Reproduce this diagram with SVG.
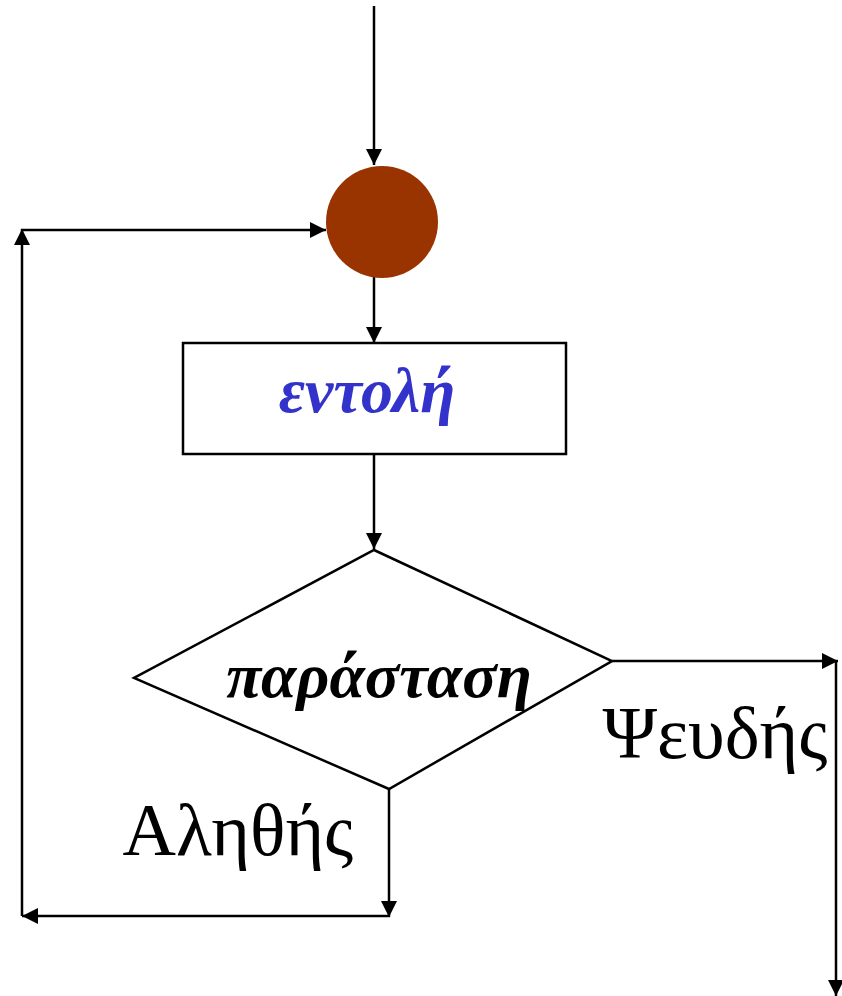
<svg xmlns="http://www.w3.org/2000/svg" width="842" height="996" viewBox="0 0 842 996">
<defs>
<marker id="arr" markerUnits="userSpaceOnUse" markerWidth="16" markerHeight="16" refX="16" refY="8" orient="auto">
<path d="M0,0 L16,8 L0,16 Z" fill="#000"/>
</marker>
<style>
.c{stroke:#000;stroke-width:2.5;fill:none}
.lbl{font-family:"Liberation Serif","Times New Roman",serif;font-size:74px;fill:#000}
.bi{font-family:"Liberation Serif","Times New Roman",serif;font-weight:bold;font-style:italic}
</style>
</defs>
<rect width="842" height="996" fill="#fff"/>
<g id="connectors">
<line class="c" x1="374" y1="6" x2="374" y2="165" marker-end="url(#arr)"/>
<line class="c" x1="374" y1="277" x2="374" y2="343" marker-end="url(#arr)"/>
<line class="c" x1="374" y1="454" x2="374" y2="549" marker-end="url(#arr)"/>
<line class="c" x1="612" y1="661" x2="838" y2="661" marker-end="url(#arr)"/>
<line class="c" x1="836" y1="661" x2="836" y2="996" marker-end="url(#arr)"/>
<line class="c" x1="389" y1="789" x2="389" y2="917" marker-end="url(#arr)"/>
<line class="c" x1="390" y1="916" x2="22" y2="916" marker-end="url(#arr)"/>
<line class="c" x1="22" y1="916" x2="22" y2="229" marker-end="url(#arr)"/>
<line class="c" x1="21" y1="230" x2="326" y2="230" marker-end="url(#arr)"/>
</g>
<g id="start">
<circle cx="382" cy="222" r="56" fill="#993300"/>
</g>
<g id="command">
<rect x="183" y="343" width="383" height="111" fill="#fff" stroke="#000" stroke-width="2.5"/>
<text class="bi" x="367" y="412" font-size="64" fill="#3333CC" text-anchor="middle">εντολή</text>
</g>
<g id="condition">
<polygon points="374,550 612,661 389,789 134,678" fill="#fff" stroke="#000" stroke-width="2.5"/>
<text class="bi" x="379" y="697" font-size="64" fill="#000" text-anchor="middle">παράσταση</text>
</g>
<g id="labels">
<text class="lbl" x="715" y="758" text-anchor="middle">Ψευδής</text>
<text class="lbl" x="238" y="855" text-anchor="middle">Αληθής</text>
</g>
</svg>
